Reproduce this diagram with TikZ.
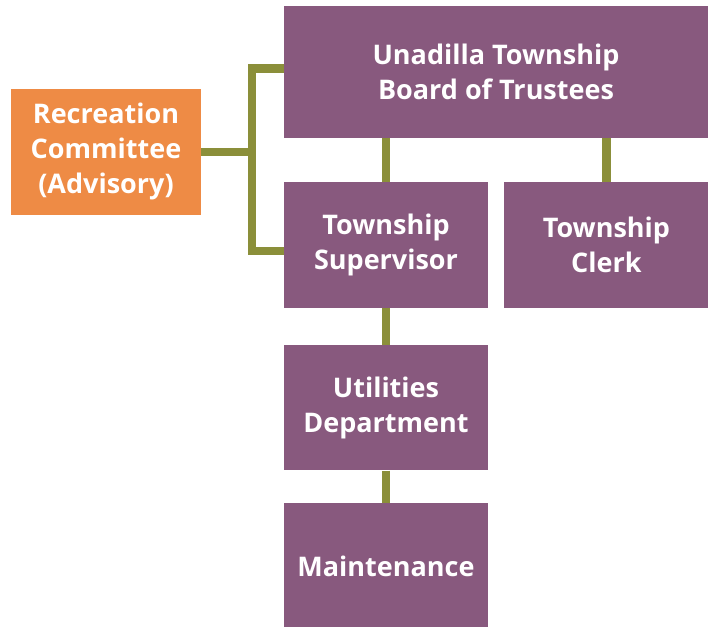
\documentclass[tikz,border=0pt]{standalone}
\usepackage{fontspec}
\setmainfont{Open Sans}
\usetikzlibrary{positioning}
\definecolor{boardpurple}{RGB}{136,89,126}
\definecolor{recorange}{RGB}{238,139,69}
\definecolor{linkolive}{RGB}{139,143,58}
\tikzstyle{office} = [rectangle, minimum width=204pt, minimum height=125.5pt, inner sep=0pt, text centered, align=center, fill=boardpurple, text=white, font=\fontsize{27}{35}\selectfont\bfseries]
\tikzstyle{advisory} = [office, minimum width=190pt, fill=recorange]
\tikzstyle{link} = [line width=8.5pt, draw=linkolive]

\begin{document}
\begin{tikzpicture}
\useasboundingbox (0,0) rectangle (713pt,-627pt);
\node (board) [office, minimum width=424pt, minimum height=132pt] at (496pt,-72pt) {Unadilla Township\\Board of Trustees};
\node (sup) [office, below=44pt of board.south west, anchor=north west] {Township\\Supervisor};
\node (clerk) [office, right=16pt of sup] {Township\\Clerk};
\node (util) [office, below=36.5pt of sup] {Utilities\\Department};
\node (maint) [office, below=32.5pt of util] {Maintenance};
\node (rec) [advisory] at (106pt,-151.75pt) {Recreation\\Committee\\(Advisory)};
\coordinate (brk) at (252pt,0);

\draw [link] (board.south -| sup) -- (sup);
\draw [link] (board.south -| clerk) -- (clerk);
\draw [link] (sup) -- (util);
\draw [link] (util) -- (maint);
\draw [link] ([yshift=3.5pt]board.west) -| ([yshift=-6pt]sup.west -| brk) -- ([yshift=-6pt]sup.west);
\draw [link] (rec.east) -- (rec.east -| brk);
\end{tikzpicture}
\end{document}
